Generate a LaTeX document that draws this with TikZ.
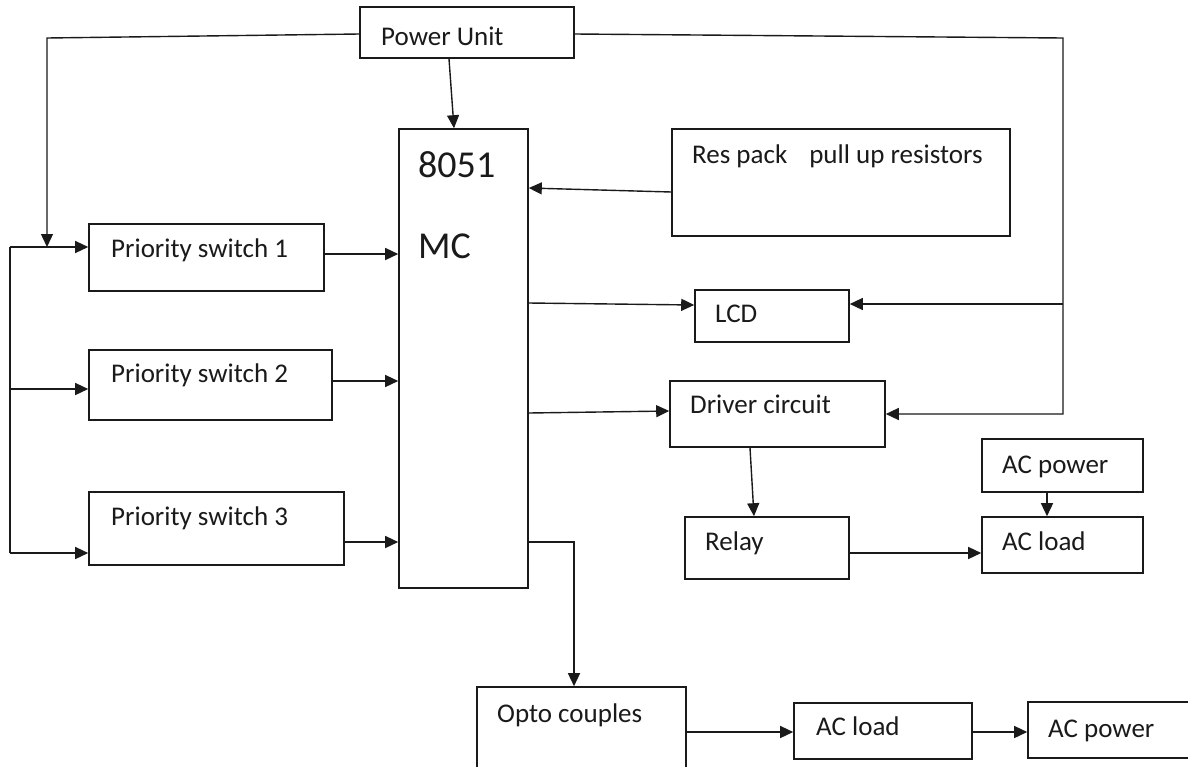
\documentclass[tikz,border=0pt]{standalone}
\usepackage{fontspec}
\setmainfont{Carlito}
\usetikzlibrary{arrows.meta,calc}
\definecolor{diagInk}{HTML}{1A1A1A}

\begin{document}
\begin{tikzpicture}[x=1pt,y=-1pt,color=diagInk,
  font=\fontsize{27}{32}\selectfont,
  block/.style={rectangle,draw=diagInk,line width=1.6pt,inner sep=0pt,fill=white},
  blocklabel/.style={anchor=base west,inner sep=0pt},
  chiplabel/.style={blocklabel,font=\fontsize{38}{44}\selectfont},
  wire/.style={draw=diagInk,line width=1.4pt},
  feed/.style={wire,-{Triangle[length=13pt,width=12pt]}}]
  \fill[white] (0,0) rectangle (1188,766);
  \path[use as bounding box] (0,0) rectangle (1188,766);
  \clip (0,0) rectangle (1188,766);

  % Blocks, given by centre and size in pixels of the page.
  \foreach \b/\x/\y/\w/\h in {pu/467/32.5/214/51,mc/463.5/358.5/129/459,
      res/841/182.5/338/107,lcd/772/316/154/52,drv/777.5/414/215/66,
      psA/206.5/257.5/235/67,psB/210.5/385/243/70,psC/216.5/528.5/255/73,
      relay/767/548/164/62,acpwA/1062.5/465.5/161/53,acldA/1062.5/545/161/56,
      opto/581.5/743.5/209/113,acldB/883/731/178/56,acpwB/1124/730/192/56}
    {\node[block,minimum width=\w pt,minimum height=\h pt] (\b) at (\x,\y) {};}

  \foreach \b/\x/\y/\t in {pu/381/45/Power Unit,
      res/692/163/Res pack\hspace{22pt}pull up resistors,
      lcd/715/322/LCD,drv/690/413/Driver circuit,
      psA/111/257/Priority switch 1,psB/111/382/Priority switch 2,
      psC/111/525/Priority switch 3,relay/705/550/Relay,
      acpwA/1002/473/AC power,acldA/1002/550/AC load,
      opto/497/722/Opto couples,acldB/816/735/AC load,acpwB/1048/737/AC power}
    {\node[blocklabel] (\b-text) at (\x,\y) {\t};}
  \node[chiplabel] (mc-top) at (418,177) {8051};
  \node[chiplabel] (mc-text) at (418,258) {MC};

  % Supply rails from the power unit.
  \coordinate (railL) at (47,38);
  \coordinate (busTop) at (47,247);
  \coordinate (busA) at (10,247);
  \coordinate (busC) at (10,553);
  \coordinate (railR) at (1063,38);
  \coordinate (railRB) at (1063,414);
  \coordinate (optoBend) at (574,542);

  \draw[feed] (pu.west |- 0,34) -- (railL) -- (busTop);
  \draw[wire] (busA) -- (busC);
  \draw[feed] (busA) -- (psA.west |- busA);
  \draw[feed] (10,389) -- (psB.west |- 0,389);
  \draw[feed] (busC) -- (psC.west |- busC);
  \draw[feed] (pu.east |- 0,34) -- (railR) -- (railRB) -- (drv.east |- railRB);
  \draw[feed] (railR |- 0,304) -- (lcd.east |- 0,304);
  \draw[feed] ($(pu.south)+(-18,0)$) -- ($(mc.north)+(-9.5,0)$);

  % Into and out of the controller.
  \draw[feed] (psA.east |- 0,254) -- (mc.west |- 0,254);
  \draw[feed] (psB.east |- 0,381) -- (mc.west |- 0,381);
  \draw[feed] (psC.east |- 0,542) -- (mc.west |- 0,542);
  \draw[feed] (res.west |- 0,192) -- (mc.east |- 0,188);
  \draw[feed] (mc.east |- 0,303) -- (lcd.west |- 0,305);
  \draw[feed] (mc.east |- 0,413) -- (drv.west |- 0,411);
  \draw[feed] (mc.east |- optoBend) -- (optoBend) -- (opto.north -| optoBend);

  % Load side.
  \draw[feed] (drv.south -| 750,0) -- (relay.north -| 754,0);
  \draw[feed] (relay.east |- 0,553) -- (acldA.west |- 0,553);
  \draw[feed] (acpwA.south -| 1047,0) -- (acldA.north -| 1047,0);
  \draw[feed] (opto.east |- 0,732) -- (acldB.west |- 0,732);
  \draw[feed] (acldB.east |- 0,732) -- (acpwB.west |- 0,732);
\end{tikzpicture}
\end{document}
